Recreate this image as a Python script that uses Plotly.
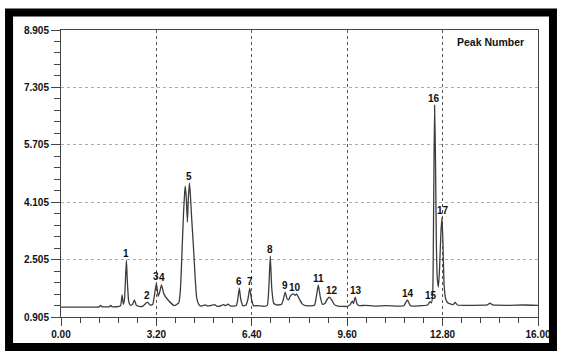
import plotly.graph_objects as go

# Chromatogram trace (retention time, signal)
times = [0.00, 0.60, 1.00, 1.28, 1.33, 1.38, 1.62, 1.67, 1.72, 1.95, 2.00, 2.05, 2.09,
         2.13, 2.17, 2.195, 2.22, 2.27, 2.33, 2.40, 2.46, 2.53, 2.62, 2.75, 2.90, 3.00,
         3.08, 3.14, 3.20, 3.26, 3.31, 3.37, 3.45, 3.57, 3.80, 3.95,
         4.00, 4.04, 4.07, 4.11, 4.15, 4.17, 4.20, 4.24, 4.27, 4.31, 4.34, 4.38, 4.44,
         4.50, 4.55, 4.62, 4.70, 4.85, 4.92, 5.00, 5.15, 5.22, 5.30, 5.45, 5.52, 5.60,
         5.70, 5.88, 5.93, 5.98, 6.03, 6.10, 6.20, 6.27, 6.33, 6.39, 6.46, 6.60, 6.80,
         6.92, 6.97, 7.02, 7.07, 7.13, 7.20, 7.29, 7.40, 7.46, 7.52, 7.58, 7.63, 7.70,
         7.79, 7.85, 7.90, 8.00, 8.09, 8.20, 8.50, 8.56, 8.63, 8.70, 8.77, 8.85, 8.93,
         9.00, 9.08, 9.17, 9.30, 9.60, 9.70, 9.77, 9.81, 9.87, 9.93, 10.00, 10.20,
         10.50, 10.90, 11.30, 11.50, 11.62, 11.72, 11.90, 12.10, 12.30, 12.38, 12.43,
         12.47, 12.50, 12.53, 12.56, 12.59, 12.62, 12.66, 12.70, 12.74, 12.78, 12.81,
         12.85, 12.90, 12.97, 13.05, 13.15, 13.22, 13.30, 13.80, 14.30, 14.39, 14.48,
         15.00, 15.50, 16.00]
signal = [1.18, 1.18, 1.18, 1.19, 1.23, 1.19, 1.19, 1.23, 1.19, 1.20, 1.22, 1.52, 1.26,
          1.40, 2.10, 2.49, 2.00, 1.35, 1.23, 1.26, 1.38, 1.23, 1.20, 1.21, 1.32, 1.23,
          1.26, 1.55, 1.85, 1.48, 1.60, 1.80, 1.55, 1.40, 1.22, 1.30,
          1.60, 2.30, 2.97, 3.80, 4.40, 4.55, 4.25, 3.55, 4.20, 4.64, 4.30, 3.70, 2.90,
          2.00, 1.45, 1.26, 1.21, 1.24, 1.21, 1.22, 1.25, 1.21, 1.20, 1.25, 1.22, 1.26,
          1.21, 1.22, 1.40, 1.71, 1.40, 1.22, 1.23, 1.40, 1.71, 1.40, 1.22, 1.22, 1.20,
          1.23, 1.70, 2.60, 1.70, 1.30, 1.25, 1.24, 1.26, 1.40, 1.60, 1.42, 1.38, 1.50,
          1.55, 1.51, 1.55, 1.40, 1.27, 1.22, 1.23, 1.45, 1.80, 1.45, 1.26, 1.28, 1.40,
          1.46, 1.38, 1.25, 1.21, 1.20, 1.25, 1.35, 1.28, 1.46, 1.27, 1.22, 1.23,
          1.21, 1.22, 1.21, 1.22, 1.38, 1.22, 1.21, 1.22, 1.24, 1.33, 1.30,
          1.60, 4.00, 6.81, 5.40, 3.00, 2.00, 1.74, 2.30, 3.20, 3.68, 3.00,
          1.80, 1.42, 1.30, 1.27, 1.25, 1.31, 1.24, 1.23, 1.24, 1.29, 1.24,
          1.23, 1.24, 1.23]

# Peak annotations
peak_labels = ["1", "2", "3", "4", "5", "6", "7", "8", "9", "10",
               "11", "12", "13", "14", "15", "16", "17"]
peak_times = [2.17, 2.88, 3.18, 3.40, 4.31, 5.98, 6.33, 7.02, 7.50, 7.86,
              8.63, 9.08, 9.88, 11.63, 12.41, 12.50, 12.80]
peak_heights = [2.49, 1.32, 1.85, 1.82, 4.64, 1.71, 1.71, 2.60, 1.60, 1.55,
                1.80, 1.46, 1.46, 1.38, 1.33, 6.81, 3.68]

y_ticks = [0.905, 2.505, 4.105, 5.705, 7.305, 8.905]
x_ticks = [0.00, 3.20, 6.40, 9.60, 12.80, 16.00]

FONT = "Liberation Sans, Arial, sans-serif"
TXT = "#111111"

fig = go.Figure()
fig.add_trace(go.Scatter(
    x=times, y=signal, mode="lines",
    line=dict(color="#3c3c3c", width=1.3, shape="spline", smoothing=0.4),
    hoverinfo="skip", showlegend=False,
))

for lab, t, h in zip(peak_labels, peak_times, peak_heights):
    fig.add_annotation(x=t, y=h, text=lab, showarrow=False, yanchor="bottom",
                       yshift=-1, font=dict(family=FONT, size=10, color=TXT, weight="bold"))

fig.add_annotation(xref="paper", yref="paper", x=0.975, y=0.985, xanchor="right",
                   yanchor="top", text="Peak Number", showarrow=False,
                   font=dict(family=FONT, size=10.5, color=TXT, weight="bold"))

# black photo border
fig.add_shape(type="rect", xref="paper", yref="paper",
              x0=-0.1089, x1=1.0314, y0=-0.1045, y1=1.061,
              line=dict(color="black", width=8), fillcolor="rgba(0,0,0,0)", layer="above")

fig.update_xaxes(
    range=[0, 16], tickvals=x_ticks, ticktext=[f"{v:.2f}" for v in x_ticks],
    showline=True, linecolor="#444", linewidth=1, mirror=True,
    ticks="outside", ticklen=8, tickcolor="#444",
    minor=dict(dtick=0.64, tick0=0, ticks="outside", ticklen=5, tickcolor="#444", showgrid=False),
    showgrid=True, gridcolor="#555", griddash="dot", gridwidth=1,
    zeroline=False, tickfont=dict(family=FONT, size=10, color=TXT, weight="bold"),
)
fig.update_yaxes(
    range=[0.905, 8.905], tickvals=y_ticks, ticktext=[f"{v:.3f}" for v in y_ticks],
    showline=True, linecolor="#444", linewidth=1, mirror=True,
    ticks="outside", ticklen=9, tickcolor="#444",
    minor=dict(dtick=0.32, tick0=0.905, ticks="outside", ticklen=6, tickcolor="#444", showgrid=False),
    showgrid=True, gridcolor="#aaa", griddash="dot", gridwidth=1,
    zeroline=False, tickfont=dict(family=FONT, size=10, color=TXT, weight="bold"),
)

fig.update_layout(
    width=562, height=351, autosize=False,
    margin=dict(l=60.5, r=24, t=30, b=34),
    paper_bgcolor="white", plot_bgcolor="white",
)

fig.write_html("out.html", config={"displayModeBar": False},
               post_script="document.body.style.margin='0';document.body.style.overflow='hidden';")
